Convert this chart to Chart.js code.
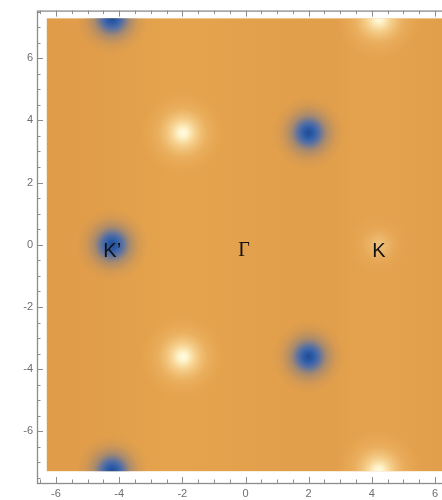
<!DOCTYPE html>
<html>
<head>
<meta charset="utf-8">
<script src="https://cdn.jsdelivr.net/npm/chart.js@4"></script>
<style>
  html, body { margin: 0; padding: 0; background: #fff; overflow: hidden; }
  #wrap { width: 460px; height: 500px; }
</style>
</head>
<body>
<div id="wrap"><canvas id="plot" width="460" height="500"></canvas></div>
<script>
// --- Data ----------------------------------------------------------------------------------------
// Curvature spots: position in k-space, sign (-1 blue, +1 bright) and relative strength
const spotX = [-4.22, 2.0, 2.0, -4.22, -4.22, -1.98, -1.98, 4.22, 4.22, 4.22]
const spotY = [0, 3.6, -3.6, 7.28, -7.28, 3.6, -3.6, 7.28, -7.28, 0]
const spotSign = [-1, -1, -1, -1, -1, 1, 1, 1, 1, 1]
const spotStrength = [1, 1, 1, 1, 1, 1, 1, 1, 1, 0.35]

// High-symmetry point labels
const pointLabels = ['K\u2019', '\u0393', 'K']
const pointLabelX = [-4.22, -0.05, 4.22]
const pointLabelY = [-0.2, -0.2, -0.2]

// Plotted region of the density image (first Brillouin zone cell)
const imageX = [-6.29, 6.32]
const imageY = [-7.28, 7.28]

// Faint vertical banding of the background, left to right
const bandX = [-6.29, -5.0, -3.3, -2.4, -0.8, 0.6, 1.9, 2.8, 3.6, 4.6, 6.32]
const bandColor = ['#e09c49', '#e19d4a', '#e3a14c', '#e5a34e', '#e4a24d', '#e3a04c', '#e19e4b', '#e29f4b', '#e4a24e', '#e4a14e', '#e29f4b']

// Axis settings
const xRange = [-6.6, 6.6]
const yRange = [-7.66, 7.53]
const tickStep = 0.5
const labelStep = 2


// --- Spot colouring ------------------------------------------------------------------------------
function spotRadius(i) {
    if (i === undefined) return 0
    return (spotSign[i] < 0 ? 36 : 42) * (spotStrength[i] < 1 ? 0.75 : 1)
}

function spotGradient(context) {
    const chart = context.chart
    const i = context.dataIndex
    if (!context.raw || !chart.scales || !chart.scales.x) return 'rgba(0,0,0,0)'

    const px = chart.scales.x.getPixelForValue(context.raw.x)
    const py = chart.scales.y.getPixelForValue(context.raw.y)
    const r = spotRadius(i)
    // scales are not laid out yet on the first pass
    if (!isFinite(px) || !isFinite(py) || !(r > 0)) return 'rgba(0,0,0,0)'

    const a = spotStrength[i]
    const g = chart.ctx.createRadialGradient(px, py, 0, px, py, r)

    if (spotSign[i] < 0) {
        // dark blue core fading through grey into the orange
        g.addColorStop(0, `rgba(34, 76, 142, ${a})`)
        g.addColorStop(0.14, `rgba(44, 92, 170, ${a})`)
        g.addColorStop(0.3, `rgba(58, 102, 182, ${0.8 * a})`)
        g.addColorStop(0.5, `rgba(88, 110, 158, ${0.4 * a})`)
        g.addColorStop(0.75, `rgba(115, 115, 135, ${0.13 * a})`)
        g.addColorStop(1, 'rgba(120, 120, 130, 0)')
    } else {
        // pale yellow-white core
        g.addColorStop(0, `rgba(255, 252, 232, ${a})`)
        g.addColorStop(0.12, `rgba(255, 245, 205, ${0.95 * a})`)
        g.addColorStop(0.32, `rgba(252, 225, 165, ${0.68 * a})`)
        g.addColorStop(0.6, `rgba(246, 202, 128, ${0.3 * a})`)
        g.addColorStop(1, 'rgba(240, 185, 100, 0)')
    }
    return g
}


// --- Plugin: image background, labels and Mathematica-style frame --------------------------------
const densityFrame = {
    id: 'densityFrame',
    beforeDatasetsDraw(chart) {
        const { ctx, scales: { x, y } } = chart
        const l = x.getPixelForValue(imageX[0])
        const r = x.getPixelForValue(imageX[1])
        const t = y.getPixelForValue(imageY[1])
        const b = y.getPixelForValue(imageY[0])

        const grad = ctx.createLinearGradient(l, 0, r, 0)
        bandX.forEach((v, i) => {
            grad.addColorStop((v - imageX[0]) / (imageX[1] - imageX[0]), bandColor[i])
        })

        ctx.save()
        ctx.fillStyle = grad
        ctx.fillRect(l, t, r - l, b - t)
        ctx.restore()

        // clip the spots to the image
        ctx.save()
        ctx.beginPath()
        ctx.rect(l, t, r - l, b - t)
        ctx.clip()
    },
    afterDatasetsDraw(chart) {
        chart.ctx.restore()
    },
    afterDraw(chart) {
        const { ctx, chartArea: area, scales: { x, y } } = chart

        // point labels
        ctx.save()
        ctx.fillStyle = '#111'
        ctx.textAlign = 'center'
        ctx.textBaseline = 'middle'
        pointLabels.forEach((txt, i) => {
            ctx.font = txt === '\u0393' ? '20px "Liberation Serif", serif' : '20px "Liberation Sans", Arial, sans-serif'
            ctx.fillText(txt, x.getPixelForValue(pointLabelX[i]), y.getPixelForValue(pointLabelY[i]))
        })
        ctx.restore()

        // frame
        ctx.save()
        ctx.strokeStyle = '#8c8c8c'
        ctx.lineWidth = 1.3
        ctx.strokeRect(area.left + 0.5, area.top + 0.5, area.right - area.left, area.bottom - area.top)

        // inward ticks
        ctx.lineWidth = 1
        const isMajor = v => Math.abs(v / labelStep - Math.round(v / labelStep)) < 1e-6
        ctx.beginPath()
        x.ticks.forEach(t => {
            const px = Math.round(x.getPixelForValue(t.value)) + 0.5
            const len = isMajor(t.value) ? 6 : 3.5
            ctx.moveTo(px, area.bottom); ctx.lineTo(px, area.bottom - len)
            ctx.moveTo(px, area.top); ctx.lineTo(px, area.top + len)
        })
        y.ticks.forEach(t => {
            const py = Math.round(y.getPixelForValue(t.value)) + 0.5
            const len = isMajor(t.value) ? 6 : 3.5
            ctx.moveTo(area.left, py); ctx.lineTo(area.left + len, py)
            ctx.moveTo(area.right, py); ctx.lineTo(area.right - len, py)
        })
        ctx.stroke()
        ctx.restore()
    }
}


// --- Chart creation ------------------------------------------------------------------------------
const tickFont = { family: '"Liberation Sans", Arial, sans-serif', size: 11 }

function tickLabel(value) {
    return Math.abs(value % labelStep) < 1e-6 ? String(Math.round(value)) : ''
}

new Chart(document.getElementById('plot'), {
    type: 'scatter',
    data: {
        datasets: [{
            data: spotX.map((v, i) => ({ x: v, y: spotY[i] })),
            pointRadius: c => spotRadius(c.dataIndex),
            pointHoverRadius: c => spotRadius(c.dataIndex),
            backgroundColor: spotGradient,
            borderWidth: 0,
            pointBorderWidth: 0
        }]
    },
    plugins: [densityFrame],
    options: {
        responsive: false,
        animation: false,
        events: [],
        // the large spot radii must not shrink the plot area
        layout: { autoPadding: false, padding: { top: 7, right: 6, left: 0, bottom: 0 } },
        plugins: {
            legend: { display: false },
            tooltip: { enabled: false }
        },
        scales: {
            x: {
                type: 'linear',
                min: xRange[0],
                max: xRange[1],
                grid: { display: false, drawTicks: false },
                border: { display: false },
                ticks: {
                    stepSize: tickStep,
                    includeBounds: false,
                    autoSkip: false,
                    maxRotation: 0,
                    padding: 4,
                    color: '#6e6e6e',
                    font: tickFont,
                    callback: tickLabel
                },
                afterFit: scale => { scale.height = 17 }
            },
            y: {
                type: 'linear',
                min: yRange[0],
                max: yRange[1],
                grid: { display: false, drawTicks: false },
                border: { display: false },
                ticks: {
                    stepSize: tickStep,
                    includeBounds: false,
                    autoSkip: false,
                    padding: 4,
                    color: '#6e6e6e',
                    font: tickFont,
                    callback: tickLabel
                },
                afterFit: scale => { scale.width = 37 }
            }
        }
    }
})
</script>
</body>
</html>
